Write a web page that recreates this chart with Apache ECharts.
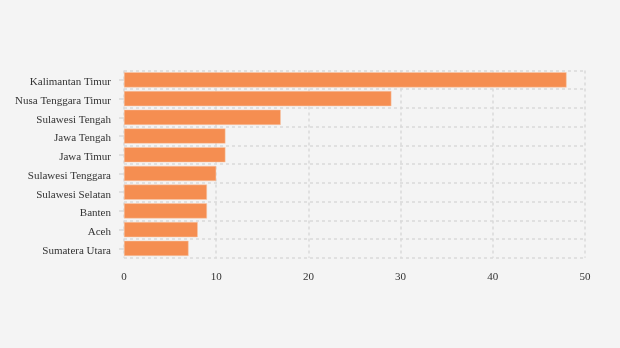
<!DOCTYPE html>
<html><head><meta charset="utf-8">
<script src="https://cdn.jsdelivr.net/npm/echarts@6/dist/echarts.min.js"></script>
<style>html,body{margin:0;padding:0;background:#f4f4f4}#c{width:620px;height:348px}</style>
</head><body><div id="c"></div>
<script>
const categories = ["Kalimantan Timur","Nusa Tenggara Timur","Sulawesi Tengah","Jawa Tengah","Jawa Timur","Sulawesi Tenggara","Sulawesi Selatan","Banten","Aceh","Sumatera Utara"];
const values = [48,29,17,11,11,10,9,9,8,7];
const xTicks = [0,10,20,30,40,50];

const chart = echarts.init(document.getElementById('c'));
chart.setOption({
  backgroundColor:'#f4f4f4',
  animation:false,
  grid:{left:124,right:35,top:70.5,bottom:90.3},
  xAxis:{type:'value',min:xTicks[0],max:xTicks[xTicks.length-1],interval:10,
    axisLine:{show:false},axisTick:{show:false},
    axisLabel:{fontFamily:'Liberation Serif',fontSize:11,color:'#333',margin:14},
    splitLine:{show:true,lineStyle:{type:[3,3],color:'#d9d9d9',width:1.5}}},
  yAxis:{type:'category',data:categories,inverse:true,
    axisLine:{show:false},
    axisTick:{show:true,length:5,alignWithLabel:true,lineStyle:{color:'#d9d9d9',width:1.5}},
    axisLabel:{fontFamily:'Liberation Serif',fontSize:11,color:'#333',margin:13,verticalAlign:'top',lineHeight:11,padding:[-3,0,0,0]},
    splitLine:{show:true,lineStyle:{type:[3,3],color:'#d9d9d9',width:1.5}}},
  series:[{type:'bar',data:values,barCategoryGap:'19%',
    itemStyle:{color:'#f58e51',borderColor:'#f7c9ac',borderWidth:0.5}}]
});
</script></body></html>
